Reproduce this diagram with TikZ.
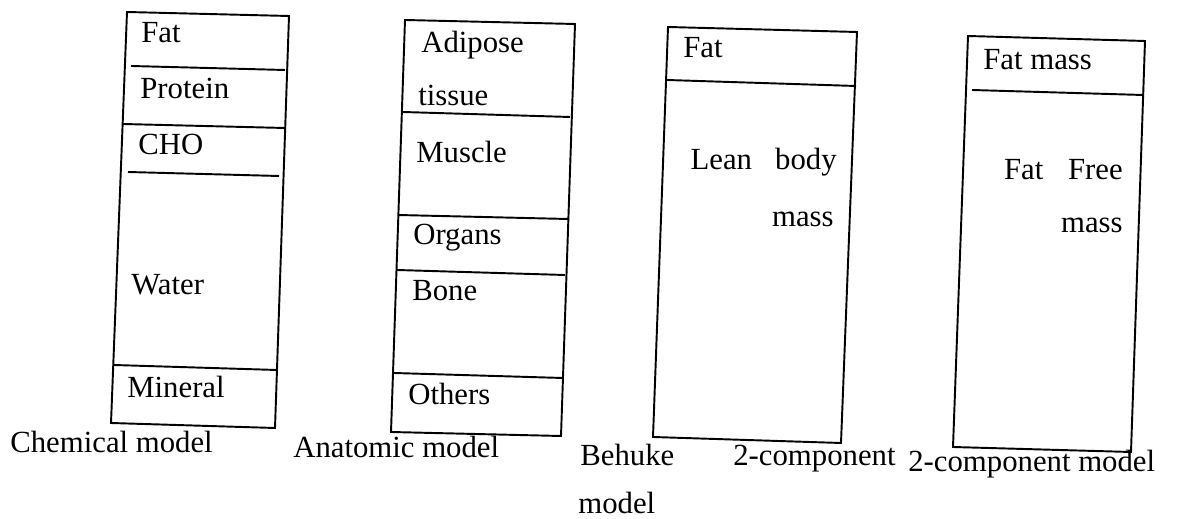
\documentclass[tikz,border=0pt]{standalone}
\usepackage{fontspec}
\setmainfont{Liberation Serif}
\tikzset{
  part/.style={anchor=base west, inner sep=0pt, font=\fontsize{17.5}{20}\selectfont},
  partr/.style={part, anchor=base east},
  box/.style={draw, line width=1.1pt},
}

\begin{document}
\begin{tikzpicture}[x=0.02cm, y=-0.02cm]
    \useasboundingbox (0,0) rectangle (1187,519);

    % Chemical model
    \draw[box] (127,12) -- (289,16) -- (275,428) -- (111,423) -- cycle;
    \draw[box] (131,66) -- (285,70);
    \draw[box] (123,124) -- (285,128);
    \draw[box] (128,172) -- (279,176);
    \draw[box] (114,365) -- (277,370);
    \node[part] (chemFat) at (141,43) {Fat};
    \node[part] (chemProt) at (140,99) {Protein};
    \node[part] (chemCho) at (138,155) {CHO};
    \node[part] (chemWater) at (131,295) {Water};
    \node[part] (chemMin) at (127,398) {Mineral};
    \node[part] (chemName) at (10,453) {Chemical model};

    % Anatomic model
    \draw[box] (405,20) -- (575,24) -- (561,436) -- (391,432) -- cycle;
    \draw[box] (403,112) -- (570,117);
    \draw[box] (398,215) -- (568,219);
    \draw[box] (397,270) -- (565,275);
    \draw[box] (394,373) -- (563,378);
    \node[part] (anaAdip) at (421,53) {Adipose};
    \node[part] (anaTiss) at (418,106) {tissue};
    \node[part] (anaMusc) at (416,163) {Muscle};
    \node[part] (anaOrg) at (413,245) {Organs};
    \node[part] (anaBone) at (412,301) {Bone};
    \node[part] (anaOth) at (408,405) {Others};
    \node[part] (anaName) at (293,458) {Anatomic model};

    % Behuke 2-component model
    \draw[box] (668,27) -- (857,32) -- (841,443) -- (653,437) -- cycle;
    \draw[box] (667,80) -- (856,86);
    \node[part] (behFat) at (683,58) {Fat};
    \node[partr] (behLean) at (837,170) {Lean\hspace{0.75em}body};
    \node[partr] (behMass) at (834,227) {mass};
    \node[part] (behName) at (580,466) {Behuke};
    \node[part] (behModel) at (578,514) {model};
    \node[part] (behComp) at (733,466) {2-component};

    % 2-component model
    \draw[box] (968,36) -- (1145,41) -- (1131,452) -- (953,447) -- cycle;
    \draw[box] (972,90) -- (1143,95);
    \node[part] (twoFat) at (983,70) {Fat mass};
    \node[partr] (twoFree) at (1123,180) {Fat\hspace{0.8em}Free};
    \node[partr] (twoMass) at (1123,233) {mass};
    \node[part] (twoName) at (908,472) {2-component model};
\end{tikzpicture}
\end{document}
